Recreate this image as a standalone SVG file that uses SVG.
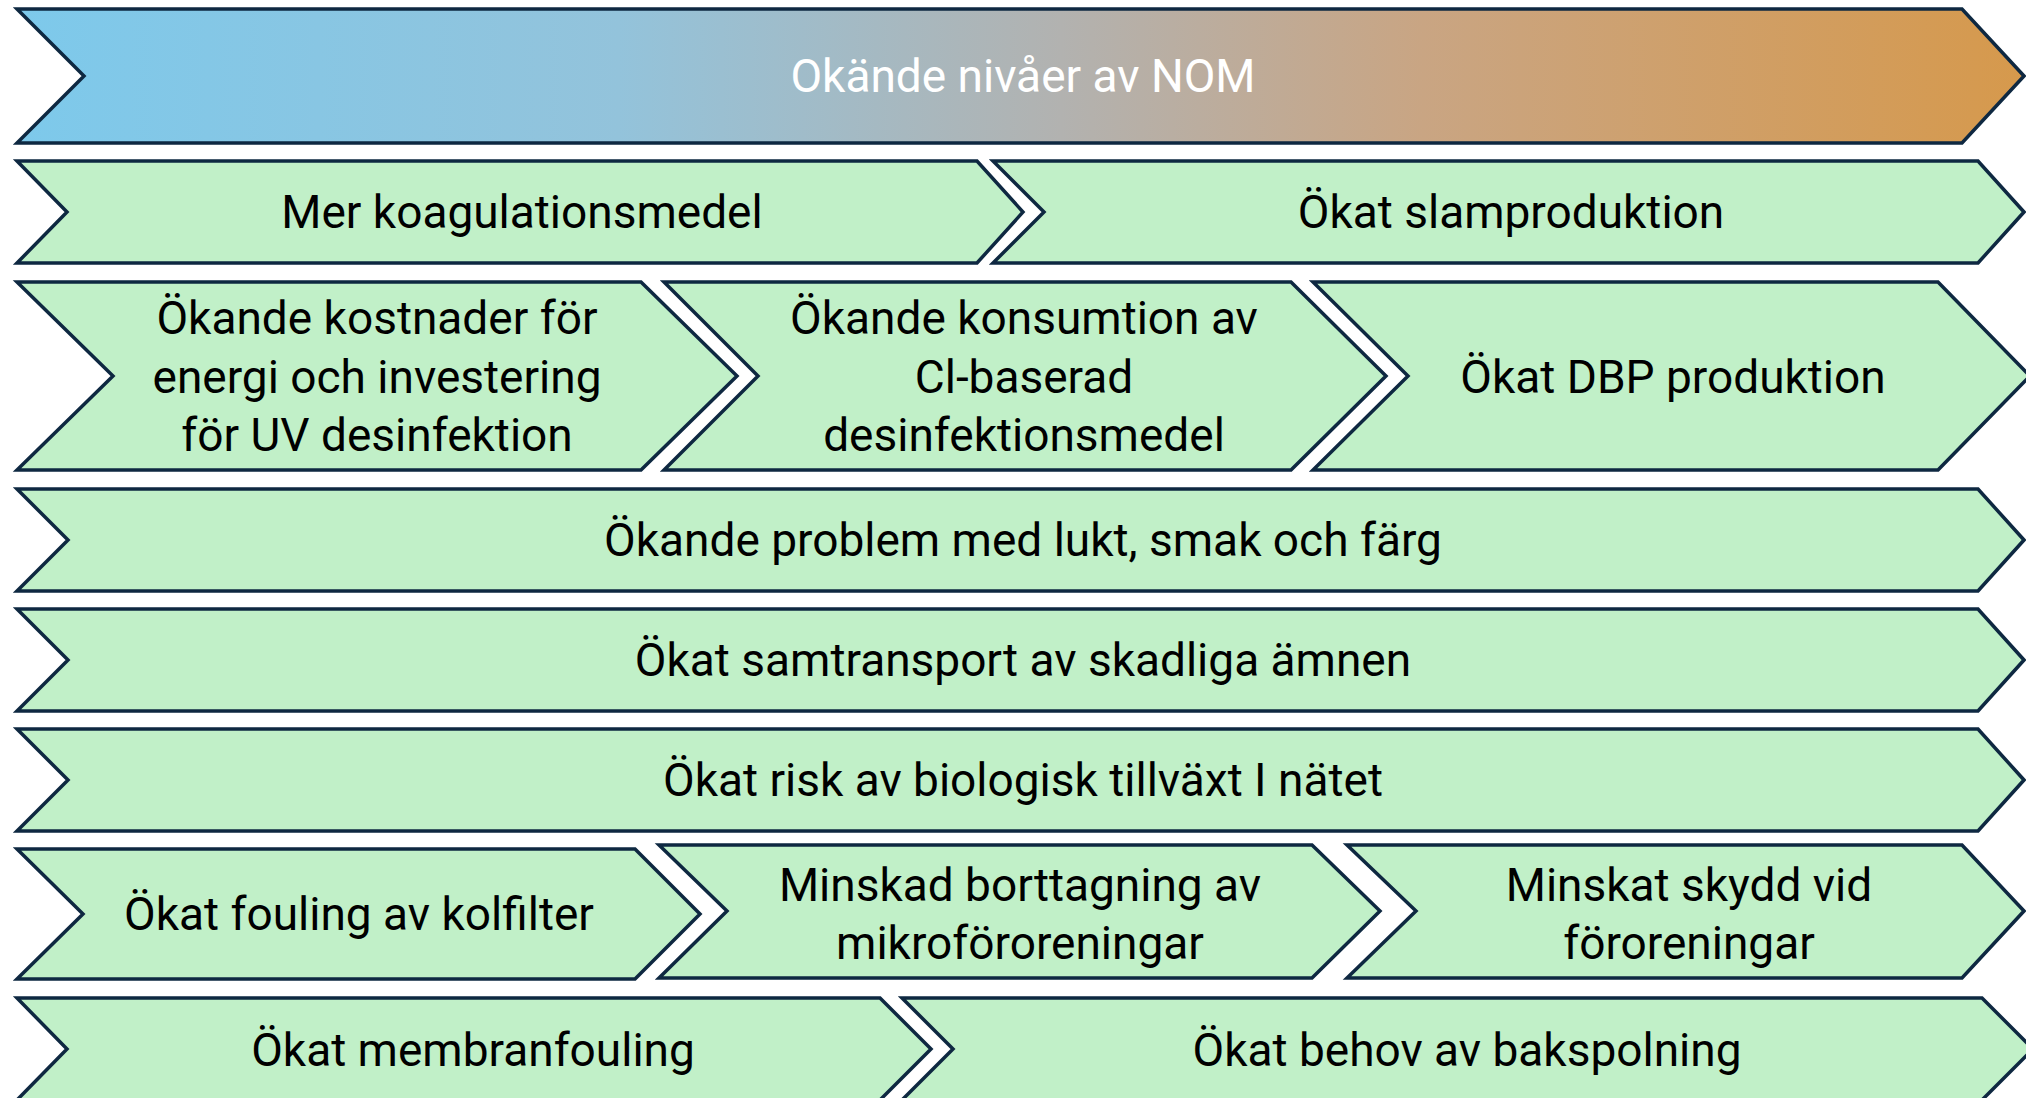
<svg xmlns="http://www.w3.org/2000/svg" width="2026" height="1098" viewBox="0 0 2026 1098">
  <defs>
    <linearGradient id="grad" x1="0" y1="0" x2="1" y2="0">
      <stop offset="0" stop-color="#7DC9EB"/>
      <stop offset="0.3" stop-color="#93C3DB"/>
      <stop offset="0.52" stop-color="#B2B2B0"/>
      <stop offset="0.7" stop-color="#C9A583"/>
      <stop offset="1" stop-color="#D6994C"/>
    </linearGradient>
  </defs>
  <style>
    .ch { fill: #C1F0C8; stroke: #0E2841; stroke-width: 3.5; stroke-linejoin: miter; }
    .top { fill: url(#grad); stroke: #0E2841; stroke-width: 3.5; }
    .t { font-family: Roboto, "Liberation Sans", sans-serif; font-size: 46px; fill: #000000; text-anchor: middle; dominant-baseline: central; }
    .w { fill: #FFFFFF; }
  </style>
  <rect width="2026" height="1098" fill="#FFFFFF"/>
  <g id="connectors"/>
  <g id="n-nom">
    <polygon class="top" points="17,9 1962,9 2024,76 1962,143 17,143 84,76"/>
    <text class="t w" x="1023" y="76">Okände nivåer av NOM</text>
  </g>
  <g id="n-koag">
    <polygon class="ch" points="17,161 977,161 1023,212 977,263 17,263 67,212"/>
    <text class="t" x="522" y="212">Mer koagulationsmedel</text>
  </g>
  <g id="n-slam">
    <polygon class="ch" points="993,161 1978,161 2024,212 1978,263 993,263 1044,212"/>
    <text class="t" x="1511" y="212">Ökat slamproduktion</text>
  </g>
  <g id="n-uv">
    <polygon class="ch" points="17,282 641,282 737,376 641,470 17,470 113,376"/>
    <text class="t" x="377" y="318">Ökande kostnader för</text>
    <text class="t" x="377" y="377">energi och investering</text>
    <text class="t" x="377" y="435">för UV desinfektion</text>
  </g>
  <g id="n-cl">
    <polygon class="ch" points="664,282 1291,282 1386,376 1291,470 664,470 758,376"/>
    <text class="t" x="1024" y="318">Ökande konsumtion av</text>
    <text class="t" x="1024" y="377">Cl-baserad</text>
    <text class="t" x="1024" y="435">desinfektionsmedel</text>
  </g>
  <g id="n-dbp">
    <polygon class="ch" points="1313,282 1938,282 2030,376 1938,470 1313,470 1408,376"/>
    <text class="t" x="1673" y="377">Ökat DBP produktion</text>
  </g>
  <g id="n-lukt">
    <polygon class="ch" points="17,489 1978,489 2024,540 1978,591 17,591 68,540"/>
    <text class="t" x="1023" y="540">Ökande problem med lukt, smak och färg</text>
  </g>
  <g id="n-samtransport">
    <polygon class="ch" points="17,609 1978,609 2024,660 1978,711 17,711 68,660"/>
    <text class="t" x="1023" y="660">Ökat samtransport av skadliga ämnen</text>
  </g>
  <g id="n-bio">
    <polygon class="ch" points="17,729 1978,729 2024,780 1978,831 17,831 68,780"/>
    <text class="t" x="1023" y="780">Ökat risk av biologisk tillväxt I nätet</text>
  </g>
  <g id="n-kolfilter">
    <polygon class="ch" points="17,849 635,849 700,914 635,979 17,979 83,914"/>
    <text class="t" x="359" y="914">Ökat fouling av kolfilter</text>
  </g>
  <g id="n-mikro">
    <polygon class="ch" points="659,845 1312,845 1380,911 1312,978 659,978 727,911"/>
    <text class="t" x="1020" y="885">Minskad borttagning av</text>
    <text class="t" x="1020" y="943">mikroföroreningar</text>
  </g>
  <g id="n-skydd">
    <polygon class="ch" points="1347,845 1962,845 2024,911 1962,978 1347,978 1416,911"/>
    <text class="t" x="1689" y="885">Minskat skydd vid</text>
    <text class="t" x="1689" y="943">föroreningar</text>
  </g>
  <g id="n-membran">
    <polygon class="ch" points="17,998 880,998 931,1049 880,1100 17,1100 67,1049"/>
    <text class="t" x="473" y="1050">Ökat membranfouling</text>
  </g>
  <g id="n-backspolning">
    <polygon class="ch" points="902,998 1982,998 2033,1049 1982,1100 902,1100 953,1049"/>
    <text class="t" x="1467" y="1050">Ökat behov av bakspolning</text>
  </g>
</svg>
